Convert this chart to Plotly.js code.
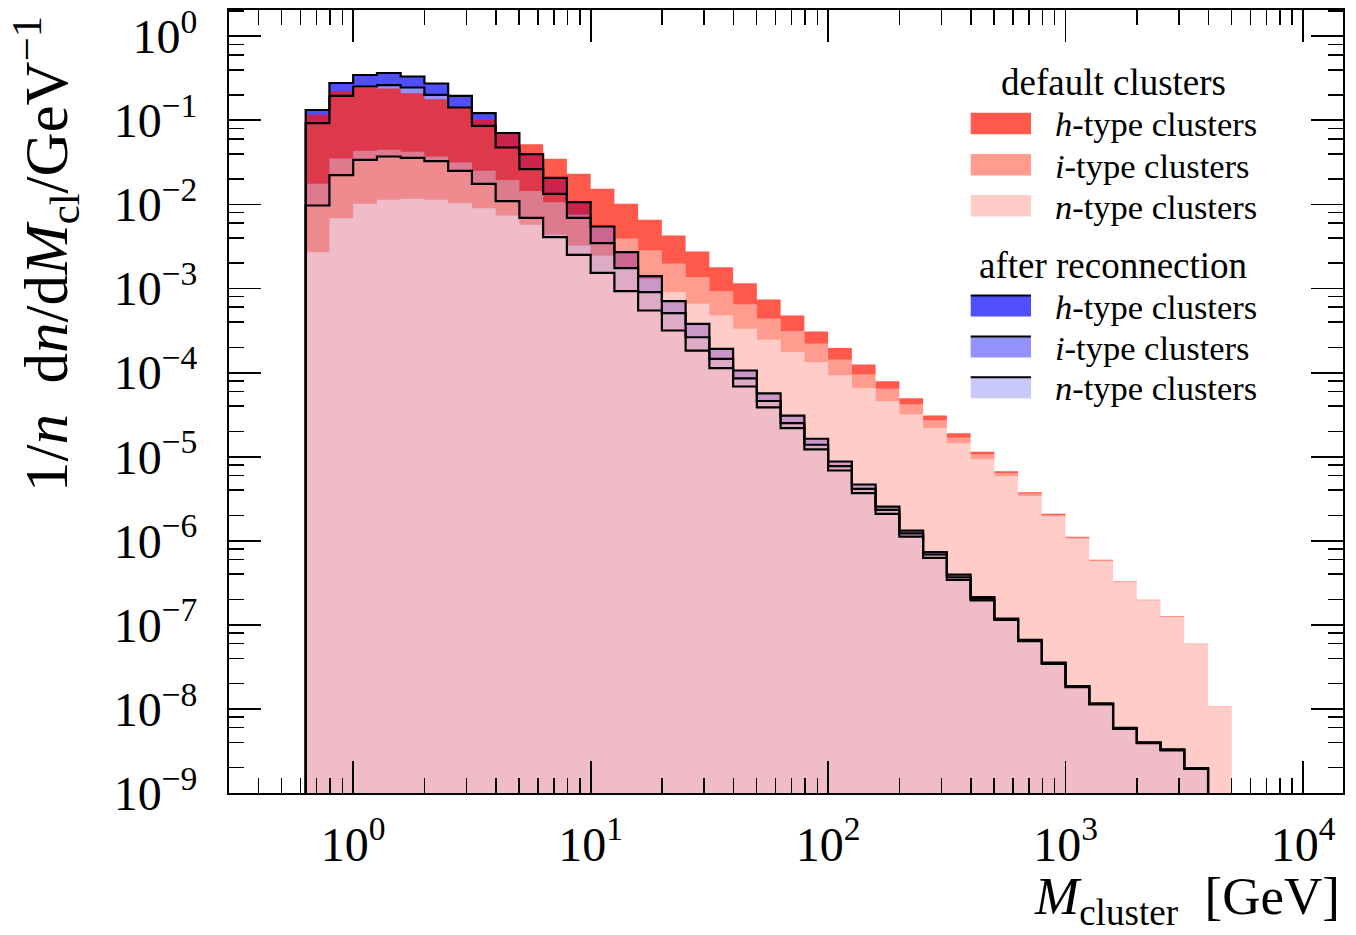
<!DOCTYPE html>
<html>
<head>
<meta charset="utf-8">
<script src="https://cdn.plot.ly/plotly-3.0.1.min.js"></script>
<style>html,body{margin:0;padding:0;background:#fff;}</style>
</head>
<body>
<div id="chart" style="width:1356px;height:935px;"></div>
<script>
// ---------------- data ----------------
// logarithmic bin edges of the cluster-mass histogram [GeV]
const binEdges = [0.6310,0.7943,1.000,1.259,1.585,1.995,2.512,3.162,3.981,5.012,
  6.310,7.943,10.00,12.59,15.85,19.95,25.12,31.62,39.81,50.12,
  63.10,79.43,100.0,125.9,158.5,199.5,251.2,316.2,398.1,501.2,
  631.0,794.3,1000,1259,1585,1995,2512,3162,3981,5012];

// default clusters (stacked: n at the bottom, then i, then h)
const defaultN = [0.0027,0.00686,0.01018,0.01136,0.01168,0.01136,0.01035,0.00903,0.00739,0.00573,
  0.00439,0.00325,0.00247,0.00178,0.0013,0.000905,0.000658,0.000478,0.000332,0.000246,
  0.000175,0.000133,9.24e-5,6.53e-5,4.57e-5,3.18e-5,2.18e-5,1.45e-5,9.34e-6,5.86e-6,
  3.41e-6,1.94e-6,1.06e-6,5.75e-7,3.19e-7,1.95e-7,1.247e-7,5.87e-8,1.066e-8];
const defaultI = [0.0149,0.02834,0.03329,0.03332,0.03062,0.02583,0.0212,0.01611,0.01215,0.00873,
  0.00625,0.00435,0.0030,0.00213,0.00154,0.001064,0.000706,0.000452,0.000314,0.000191,
  0.000136,8.72e-5,4.97e-5,2.97e-5,1.85e-5,1.00e-5,5.13e-6,2.31e-6,1.28e-6,5.01e-7,
  2.11e-7,7.0e-8,3.0e-8,7.9e-9,5e-9,2e-9,1e-9,4e-10,5e-11];
const defaultH = [0.0989,0.1872,0.1992,0.1947,0.1682,0.1414,0.1088,0.0765,0.0532,0.0376,
  0.0243,0.01556,0.00989,0.00628,0.00374,0.002305,0.001393,0.000864,0.000511,0.000304,
  0.000167,8.81e-5,5.42e-5,2.99e-5,1.48e-5,7.87e-6,3.95e-6,2.25e-6,8.15e-7,3.60e-7,
  1.63e-7,7.9e-8,3.0e-8,1.14e-8,4e-9,1.8e-9,1.6e-9,4e-10,4e-11];

// after reconnection (stacked: n, i, h)
const reconN = [0.00972,0.02229,0.03398,0.03719,0.03588,0.0327,0.02514,0.01761,0.01093,0.00694,
  0.00408,0.00252,0.00154,0.00093,0.000548,0.000317,0.000183,0.000113,6.84e-5,3.85e-5,
  2.19e-5,1.22e-5,6.85e-6,3.68e-6,2.09e-6,1.12e-6,6.27e-7,3.43e-7,1.95e-7,1.149e-7,
  6.39e-8,3.44e-8,1.814e-8,1.129e-8,5.805e-9,3.913e-9,3.204e-9,1.941e-9,0];
const reconI = [0.08286,0.17374,0.21889,0.22487,0.21021,0.16877,0.11716,0.0686,0.03666,0.01933,
  0.00931,0.00442,0.00192,0.000816,0.000357,0.000192,8.06e-5,3.31e-5,1.68e-5,7.49e-6,
  3.22e-6,1.67e-6,8.56e-7,4.71e-7,2.42e-7,1.06e-7,5.92e-8,2.54e-8,9.3e-9,1.9e-9,
  1.1e-9,5.6e-10,3.0e-10,1.6e-10,8e-11,5e-11,4.5e-11,2e-11,0];
const reconH = [0.04032,0.08234,0.09363,0.10396,0.0865,0.07308,0.05372,0.03553,0.02319,0.01334,
  0.00736,0.0037,0.00201,0.000959,0.000498,0.000198,0.000117,4.60e-5,2.08e-5,1.05e-5,
  5.74e-6,2.48e-6,1.06e-6,5.19e-7,2.21e-7,9.4e-8,4.48e-8,2.83e-8,9.1e-9,2.2e-9,
  1.1e-9,6.8e-10,3.0e-10,1.6e-10,8e-11,5e-11,4.5e-11,2e-11,0];

const xTickVals = [1, 10, 100, 1000, 10000];
const xTickText = ['10<sup>0</sup>','10<sup>1</sup>','10<sup>2</sup>','10<sup>3</sup>','10<sup>4</sup>'];
const yTickVals = [1e-9,1e-8,1e-7,1e-6,1e-5,1e-4,1e-3,1e-2,1e-1,1];
const yTickText = ['10<sup>−9</sup>','10<sup>−8</sup>','10<sup>−7</sup>','10<sup>−6</sup>','10<sup>−5</sup>',
  '10<sup>−4</sup>','10<sup>−3</sup>','10<sup>−2</sup>','10<sup>−1</sup>','10<sup>0</sup>'];

const legendDefault = ['<i>h</i>-type clusters','<i>i</i>-type clusters','<i>n</i>-type clusters'];
const legendRecon = ['<i>h</i>-type clusters','<i>i</i>-type clusters','<i>n</i>-type clusters'];

// ---------------- styles ----------------
const FONT = 'Liberation Serif, DejaVu Serif, serif';
const reconColors = ['#4f4fff', '#9292fb', '#c8c8fb'];               // h, i, n
const defaultColors = ['rgba(255,19,0,0.7)', 'rgba(255,112,96,0.7)', 'rgba(255,182,176,0.7)']; // h, i, n
const BASE = 1e-12;

// ---------------- helpers ----------------
function addArr(a, b) { return a.map((v, k) => v + b[k]); }
function lastNonZero(arr) { let n = 0; arr.forEach((v, k) => { if (v > 0) n = k + 1; }); return n; }

function band(lo, hi, nUse, color) {
  const xs = [], ys = [];
  for (let k = 0; k < nUse; k++) { xs.push(binEdges[k], binEdges[k + 1]); ys.push(hi[k], hi[k]); }
  for (let k = nUse - 1; k >= 0; k--) { xs.push(binEdges[k + 1], binEdges[k]); ys.push(lo[k], lo[k]); }
  return { x: xs, y: ys, type: 'scatter', mode: 'none', fill: 'toself', fillcolor: color,
           hoverinfo: 'skip', showlegend: false };
}
function stepLine(hi, nUse) {
  const xs = [binEdges[0]], ys = [BASE];
  for (let k = 0; k < nUse; k++) { xs.push(binEdges[k], binEdges[k + 1]); ys.push(hi[k], hi[k]); }
  xs.push(binEdges[nUse]); ys.push(BASE);
  return { x: xs, y: ys, type: 'scatter', mode: 'lines', line: { color: '#000', width: 2.2 },
           hoverinfo: 'skip', showlegend: false };
}

const nb = binEdges.length - 1;
const baseArr = new Array(nb).fill(BASE);

const dN = defaultN, dNI = addArr(defaultN, defaultI), dAll = addArr(dNI, defaultH);
const rN = reconN, rNI = addArr(reconN, reconI), rAll = addArr(rNI, reconH);
const nR = lastNonZero(rAll), nD = lastNonZero(dAll);

const traces = [
  band(baseArr, rN, nR, reconColors[2]),
  band(rN, rNI, nR, reconColors[1]),
  band(rNI, rAll, nR, reconColors[0]),
  band(baseArr, dN, nD, defaultColors[2]),
  band(dN, dNI, nD, defaultColors[1]),
  band(dNI, dAll, nD, defaultColors[0]),
  stepLine(rN, nR),
  stepLine(rNI, nR),
  stepLine(rAll, nR)
];

// ---------------- layout ----------------
const W = 1356, H = 935, ML = 229, MR = 13, MT = 10, MB = 142;
const PW = W - ML - MR, PH = H - MT - MB;
const px = v => (v - ML) / PW;          // pixel -> paper x
const py = v => (H - MB - v) / PH;      // pixel -> paper y

function minorVals(mants, eMin, eMax) {
  const out = [];
  for (let e = eMin; e <= eMax; e++) mants.forEach(m => out.push(m * Math.pow(10, e)));
  return out;
}

const TITLE_SIZE = 37, ENTRY_SIZE = 34.5;
const shapes = [];
const annotations = [];
// legend: default clusters
annotations.push({ xref: 'paper', yref: 'paper', x: px(1113), y: py(82), text: 'default clusters',
  showarrow: false, xanchor: 'center', yanchor: 'middle', font: { family: FONT, size: TITLE_SIZE, color: '#000' } });
const patchTopsD = [112.7, 154, 195];
const patchTopsR = [295, 336, 376.7];
const patchH = 21.5;
[0, 1, 2].forEach(k => {
  shapes.push({ type: 'rect', xref: 'paper', yref: 'paper', x0: px(970.7), x1: px(1031),
    y0: py(patchTopsD[k] + patchH), y1: py(patchTopsD[k]), fillcolor: defaultColors[k], line: { width: 0 } });
  annotations.push({ xref: 'paper', yref: 'paper', x: px(1053), y: py(patchTopsD[k] + patchH / 2 + 1),
    text: legendDefault[k], showarrow: false, xanchor: 'left', yanchor: 'middle',
    font: { family: FONT, size: ENTRY_SIZE, color: '#000' } });
});
annotations.push({ xref: 'paper', yref: 'paper', x: px(1113), y: py(265), text: 'after reconnection',
  showarrow: false, xanchor: 'center', yanchor: 'middle', font: { family: FONT, size: TITLE_SIZE, color: '#000' } });
[0, 1, 2].forEach(k => {
  shapes.push({ type: 'rect', xref: 'paper', yref: 'paper', x0: px(970.7), x1: px(1031),
    y0: py(patchTopsR[k] + patchH), y1: py(patchTopsR[k]), fillcolor: reconColors[k], line: { width: 0 } });
  shapes.push({ type: 'line', xref: 'paper', yref: 'paper', x0: px(970.7), x1: px(1031),
    y0: py(patchTopsR[k] + 0.5), y1: py(patchTopsR[k] + 0.5), line: { color: '#000', width: 2 } });
  annotations.push({ xref: 'paper', yref: 'paper', x: px(1053), y: py(patchTopsR[k] + patchH / 2 + 1),
    text: legendRecon[k], showarrow: false, xanchor: 'left', yanchor: 'middle',
    font: { family: FONT, size: ENTRY_SIZE, color: '#000' } });
});
// axis titles (matplotlib-style: x label at right, y label at top)
annotations.push({ xref: 'paper', yref: 'paper', x: px(1342), y: py(900), xanchor: 'right', yanchor: 'middle',
  text: '<i>M</i><sub>cluster</sub>  [GeV]', showarrow: false, font: { family: FONT, size: 53, color: '#000' } });
annotations.push({ xref: 'paper', yref: 'paper', x: px(45), y: py(254), xanchor: 'center', yanchor: 'middle',
  textangle: -90, text: '1/<i>n</i>  d<i>n</i>/d<i>M</i><sub>cl</sub>/GeV<sup>−1</sup>', showarrow: false,
  font: { family: FONT, size: 61, color: '#000' } });

const axisCommon = {
  type: 'log', showgrid: false, zeroline: false, showline: true, linecolor: '#000', linewidth: 2,
  mirror: 'allticks', ticks: 'inside', ticklen: 32, tickwidth: 1.8, tickcolor: '#000',
  tickmode: 'array', tickfont: { family: FONT, size: 48, color: '#000' }
};

const layout = {
  width: W, height: H, autosize: false,
  margin: { l: ML, r: MR, t: MT, b: MB, pad: 0 },
  paper_bgcolor: '#fff', plot_bgcolor: '#fff',
  showlegend: false,
  xaxis: Object.assign({}, axisCommon, {
    range: [Math.log10(0.3), Math.log10(14730)],
    tickvals: xTickVals, ticktext: xTickText, ticklabelstandoff: 8,
    minor: { ticks: 'inside', ticklen: 15, tickwidth: 1.5, tickcolor: '#000', showgrid: false,
             tickvals: minorVals([2,3,4,5,6,7,8,9], -1, 3) }
  }),
  yaxis: Object.assign({}, axisCommon, {
    range: [-9, 0.313],
    tickvals: yTickVals, ticktext: yTickText, ticklabelstandoff: 20,
    minor: { ticks: 'inside', ticklen: 15, tickwidth: 1.5, tickcolor: '#000', showgrid: false,
             tickvals: minorVals([2,4,6,8], -9, 0) }
  }),
  shapes: shapes,
  annotations: annotations
};

Plotly.newPlot('chart', traces, layout, { displayModeBar: false, staticPlot: true });
</script>
</body>
</html>
